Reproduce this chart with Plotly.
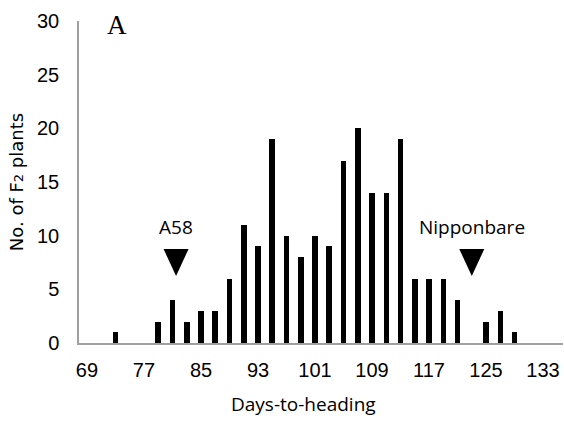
import plotly.graph_objects as go

days = [73, 79, 81, 83, 85, 87, 89, 91, 93, 95, 97, 99, 101, 103, 105, 107, 109, 111, 113, 115, 117, 119, 121, 125, 127, 129]
counts = [1, 2, 4, 2, 3, 3, 6, 11, 9, 19, 10, 8, 10, 9, 17, 20, 14, 14, 19, 6, 6, 6, 4, 2, 3, 1]
tick_vals = [69, 77, 85, 93, 101, 109, 117, 125, 133]
parent_names = ["A58", "Nipponbare"]
parent_days = [81.5, 123]
marker_y = 7.5
label_y = 10.8

fig = go.Figure()
fig.add_trace(go.Bar(x=days, y=counts, width=0.78, marker=dict(color="black", line=dict(width=0)), showlegend=False))

for name, d in zip(parent_names, parent_days):
    fig.add_shape(type="path", xref="x", yref="y", xsizemode="pixel", ysizemode="pixel",
                  xanchor=d, yanchor=marker_y, path="M-12.5,13.5 L12.5,13.5 L0,-13.5 Z",
                  fillcolor="black", line=dict(width=0))
    fig.add_annotation(x=d, y=label_y, text=name, showarrow=False,
                       font=dict(family="Open Sans", size=19, color="black"))

# panel letter
fig.add_annotation(x=(117 - 79) / 484, y=1 + (21 - 25) / 322, xref="paper", yref="paper", text="A",
                   showarrow=False, xanchor="center", yanchor="middle",
                   font=dict(family="Liberation Serif", size=27, color="black"))
# x-axis title
fig.add_annotation(x=(303 - 79) / 484, y=(343 - 404) / 322, xref="paper", yref="paper",
                   text="Days-to-heading", showarrow=False, xanchor="center", yanchor="middle",
                   font=dict(family="Open Sans", size=19, color="black"))

fig.update_layout(
    width=564, height=421,
    margin=dict(l=79, r=1, t=21, b=78),
    plot_bgcolor="white", paper_bgcolor="white",
    bargap=0,
)
fig.update_xaxes(range=[67.88, 135.8], tickvals=tick_vals, ticks="", showgrid=False,
                 showline=True, linecolor="#a0a0a0", linewidth=1.5, zeroline=False,
                 tickfont=dict(family="Liberation Sans", size=20, color="black"), ticklabelstandoff=8)
fig.update_yaxes(range=[0, 30], tickvals=[0, 5, 10, 15, 20, 25, 30], ticks="", showgrid=False,
                 showline=True, linecolor="#a0a0a0", linewidth=1.5, zeroline=False,
                 tickfont=dict(family="Liberation Sans", size=20, color="black"), ticklabelstandoff=14,
                 title=dict(text="No. of F<span style='font-size:13px'>2</span> plants",
                            font=dict(family="DejaVu Sans", size=18, color="black"), standoff=9))

fig.write_html("out.html")
